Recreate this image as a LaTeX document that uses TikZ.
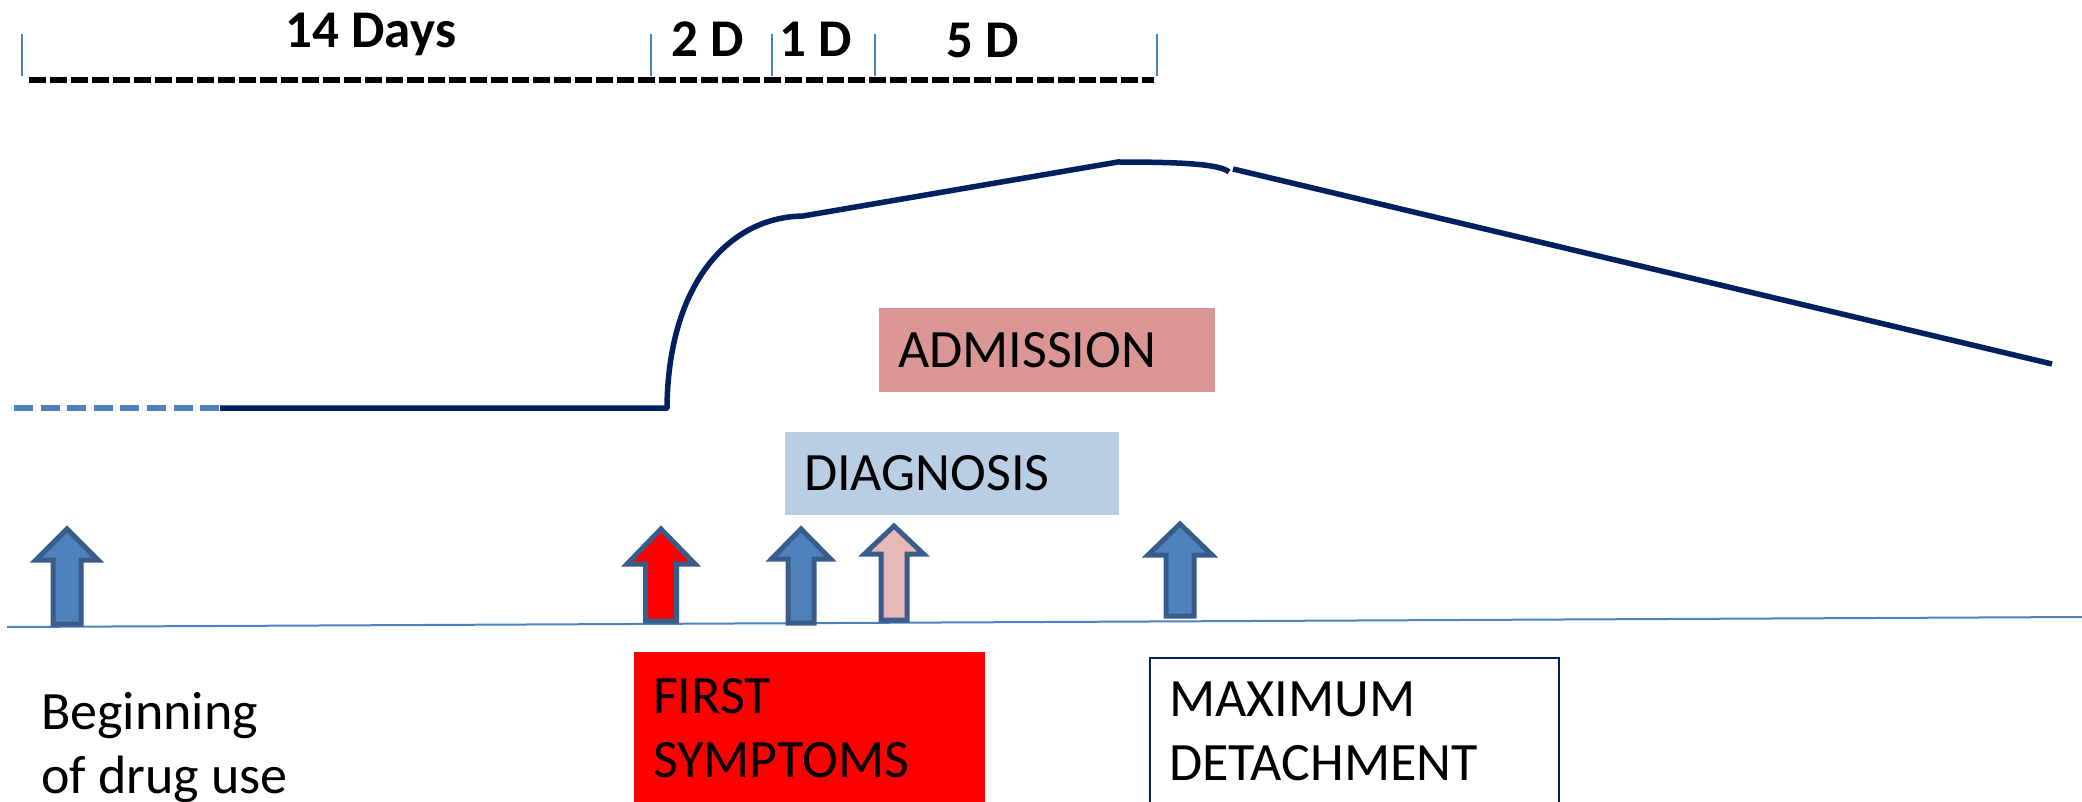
\documentclass[tikz,border=0pt]{standalone}
\usepackage{fontspec}
\setmainfont{Carlito}
\usetikzlibrary{positioning}
\definecolor{curveNavy}{HTML}{002060}
\definecolor{accentBlue}{HTML}{4F81BD}
\definecolor{arrowEdge}{HTML}{385D8A}
\definecolor{admitRose}{HTML}{D99694}
\definecolor{diagBlue}{HTML}{B9CDE5}
\definecolor{pinkFill}{HTML}{E6B9B8}
\definecolor{symRed}{HTML}{FF0000}

\begin{document}
\begin{tikzpicture}[x=1pt, y=-1pt,
    trend/.style={curveNavy, line width=5.5pt, line join=round},
    tickmark/.style={accentBlue, line width=1.5pt},
    daylabel/.style={anchor=base, inner sep=0pt, font=\bfseries\fontsize{53}{62}\selectfont},
    bigtext/.style={inner sep=0pt, align=left, font=\fontsize{54}{64}\selectfont},
    stagebox/.style={anchor=north west, outer sep=0pt, inner ysep=0pt, inner xsep=19pt, align=left, font=\fontsize{54}{64}\selectfont},
    blockarrow/.style={draw=arrowEdge, line width=5pt, miter limit=10}]
    \clip (0,0) rectangle (2082,802);

    % day scale
    \foreach \x in {22,651,772,875,1157}
        \draw[tickmark] (\x,34) -- (\x,76);
    \coordinate (spanL) at (29,80);
    \coordinate (spanR) at (1154,80);
    \draw[black, line width=6pt, dash pattern=on 16.5pt off 4.5pt] (spanL) -- (spanR);
    \node[daylabel] (d14) at (371,48) {14 Days};
    \node[daylabel] (d2) at (708,57) {2 D};
    \node[daylabel] (d1) at (816,57) {1 D};
    \node[daylabel] (d5) at (983,58) {5 D};

    % course of the curve
    \coordinate (start) at (14,408);
    \coordinate (flat) at (220,408);
    \coordinate (rise) at (667,408);
    \coordinate (plateau) at (803,216);
    \coordinate (peak) at (1118,162);
    \coordinate (bend) at (1229,172);
    \coordinate (notch) at (1233,169);
    \coordinate (tail) at (2052,364);
    \draw[accentBlue, line width=5.5pt, dash pattern=on 19pt off 7.6pt] (start) -- (flat);
    \draw[trend] (flat) -- (rise) .. controls (668,285) and (728,217) .. (plateau)
        -- (peak) .. controls (1180,162) and (1220,164) .. (bend);
    \draw[trend] (notch) -- (tail);

    % stages
    \node[stagebox, fill=admitRose, minimum width=336pt, minimum height=84pt, text width=298pt] (admission) at (879,308) {ADMISSION};
    \node[stagebox, fill=diagBlue, minimum width=334pt, minimum height=83pt, text width=296pt] (diagnosis) at (785,432) {DIAGNOSIS};

    % time axis and markers
    \coordinate (axisL) at (7,627);
    \coordinate (axisR) at (2082,617);
    \draw[accentBlue, line width=2pt] (axisL) -- (axisR);
    \foreach \x/\tip/\hb/\bot/\hw/\sw/\col in {67/529/560/624/31/14/accentBlue,
        661/529/564/621/34/15.5/symRed, 801/529/559/623/29.5/13/accentBlue,
        894/526/554/620/29.5/13/pinkFill, 1180/524/555/616/32/14/accentBlue}
        \draw[blockarrow, fill=\col] ({\x-\sw},\bot) -- ({\x-\sw},\hb) -- ({\x-\hw},\hb)
            -- (\x,\tip) -- ({\x+\hw},\hb) -- ({\x+\sw},\hb) -- ({\x+\sw},\bot) -- cycle;

    % bottom labels
    \node[bigtext, anchor=north west] (begin) at (41,692) {Beginning\\of drug use};
    \node[fill=symRed, anchor=north west, minimum width=351pt, minimum height=170pt, outer sep=0pt] (symptoms) at (634,652) {};
    \node[bigtext, below right=26pt and 19pt of symptoms.north west, anchor=north west] (symtext) {FIRST\\SYMPTOMS};
    \node[draw=curveNavy, line width=2pt, fill=white, anchor=north west, minimum width=409pt, minimum height=170pt] (detach) at (1149,657) {};
    \node[bigtext, below right=25pt and 20pt of detach.north west, anchor=north west] (dettext) {MAXIMUM\\DETACHMENT};
\end{tikzpicture}
\end{document}
